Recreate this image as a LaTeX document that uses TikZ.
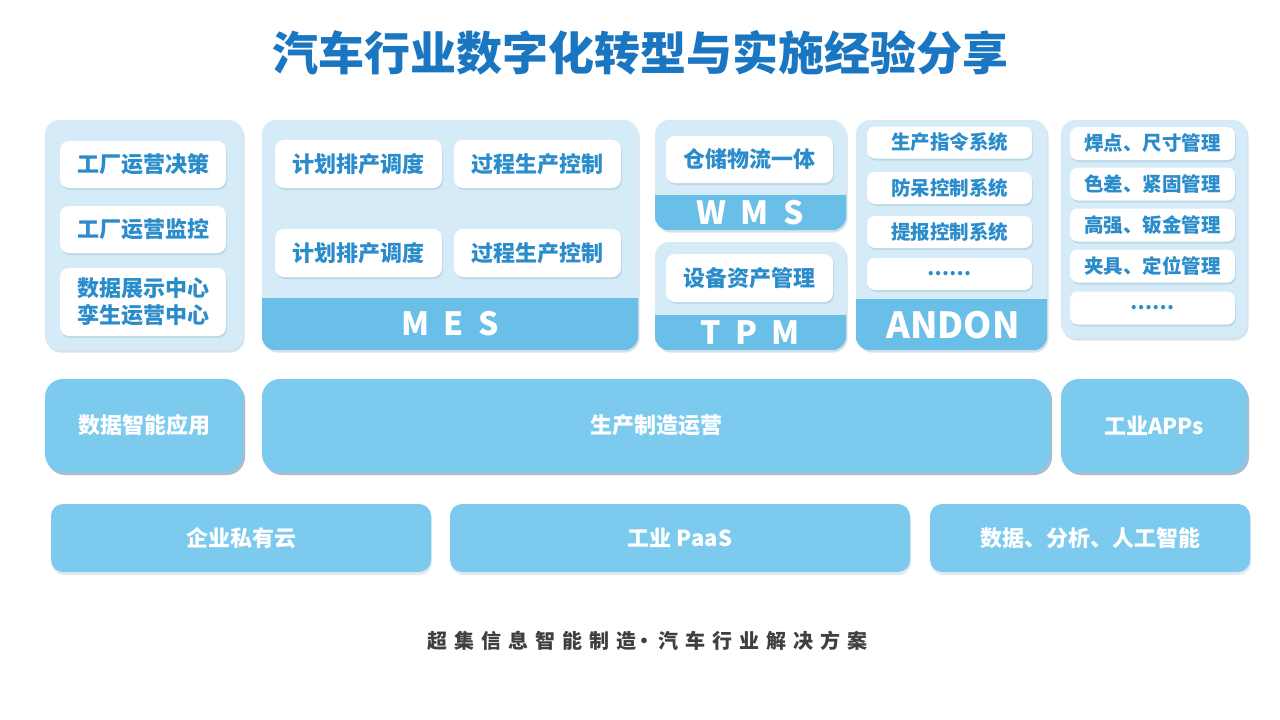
\documentclass[tikz,border=0pt]{standalone}
\usepackage{fontspec}
\setmainfont{Noto Sans CJK SC}
\usetikzlibrary{shadows}
\definecolor{titleblue}{HTML}{1A76C0}
\definecolor{txtblue}{HTML}{2A8CCB}
\definecolor{panel}{HTML}{D5ECF8}
\definecolor{band}{HTML}{69BFE7}
\definecolor{mid}{HTML}{7CCBEE}
\definecolor{footgray}{HTML}{3F3F3F}
\definecolor{shadowc}{HTML}{4F7F9E}
\tikzset{
  panelbox/.style={fill=panel, rounded corners=14pt, inner sep=0pt,
    drop shadow={shadow xshift=1.5pt, shadow yshift=-2.5pt, opacity=0.22, fill=shadowc}},
  whitebox/.style={fill=white, rounded corners=9pt, inner sep=0pt, text=txtblue,
    font=\bfseries\fontsize{22}{27}\selectfont, align=center,
    drop shadow={shadow xshift=1pt, shadow yshift=-2pt, opacity=0.18, fill=shadowc}},
  smallbox/.style={whitebox, font=\bfseries\fontsize{19.5}{24}\selectfont, rounded corners=8pt},
  bandtext/.style={text=white, font=\bfseries\fontsize{32}{36}\selectfont, inner sep=0pt},
  midbox/.style={fill=mid, rounded corners=18pt, inner sep=0pt, text=white,
    font=\bfseries\fontsize{22}{26}\selectfont,
    drop shadow={shadow xshift=2pt, shadow yshift=-3pt, opacity=0.5, fill=shadowc}},
  lowbox/.style={fill=mid, rounded corners=12pt, inner sep=0pt, text=white,
    font=\bfseries\fontsize{22}{26}\selectfont,
    drop shadow={shadow xshift=1pt, shadow yshift=-3pt, opacity=0.15, fill=shadowc}},
}
\newcommand{\ls}{\hspace{0.45em}}
\newcommand{\fs}{\hspace{7pt}}
\begin{document}
\begin{tikzpicture}[x=1pt, y=-1pt]
\useasboundingbox[fill=white] (0,0) rectangle (1280,720);

% title
\node[text=titleblue, font=\bfseries\fontsize{46}{52}\selectfont, inner sep=0pt] (title) at (640,53) {汽车行业数字化转型与实施经验分享};

% panel 1
\node[panelbox, minimum width=198pt, minimum height=230pt] (p1) at (144,235) {};
\node[whitebox, minimum width=166pt, minimum height=47pt] (a1) at (143,164.5) {工厂运营决策};
\node[whitebox, minimum width=166pt, minimum height=47pt] (a2) at (143,229.5) {工厂运营监控};
\node[whitebox, minimum width=166pt, minimum height=68pt] (a3) at (143,302) {数据展示中心\\孪生运营中心};

% MES panel
\node[panelbox, minimum width=376pt, minimum height=230pt] (mes) at (450,235) {};
\begin{scope}
\clip[rounded corners=14pt] (mes.north west) rectangle (mes.south east);
\fill[band] (262,298) rectangle (640,352);
\end{scope}
\node[whitebox, minimum width=167pt, minimum height=48pt] (m1) at (358.5,164) {计划排产调度};
\node[whitebox, minimum width=167pt, minimum height=48pt] (m2) at (537.5,164) {过程生产控制};
\node[whitebox, minimum width=167pt, minimum height=48pt] (m3) at (358.5,253) {计划排产调度};
\node[whitebox, minimum width=167pt, minimum height=48pt] (m4) at (537.5,253) {过程生产控制};
\node[bandtext] (mesl) at (450,324) {M\ls E\ls S};

% WMS panel
\node[panelbox, minimum width=191pt, minimum height=110pt] (wms) at (750.5,175) {};
\begin{scope}
\clip[rounded corners=14pt] (wms.north west) rectangle (wms.south east);
\fill[band] (655,195) rectangle (848,232);
\end{scope}
\node[whitebox, minimum width=167pt, minimum height=47pt] (w1) at (749.5,159.5) {仓储物流一体};
\node[bandtext] (wmsl) at (750,212.5) {W\ls M\ls S};

% TPM panel
\node[panelbox, minimum width=191pt, minimum height=108pt] (tpm) at (750.5,296) {};
\begin{scope}
\clip[rounded corners=14pt] (tpm.north west) rectangle (tpm.south east);
\fill[band] (655,315) rectangle (848,352);
\end{scope}
\node[whitebox, minimum width=167pt, minimum height=48pt] (t1) at (749.5,278) {设备资产管理};
\node[bandtext] (tpml) at (750,332.5) {T\ls P\ls M};

% ANDON panel
\node[panelbox, minimum width=191pt, minimum height=230pt] (andon) at (951.5,235) {};
\begin{scope}
\clip[rounded corners=14pt] (andon.north west) rectangle (andon.south east);
\fill[band] (856,299) rectangle (1049,352);
\end{scope}
\node[smallbox, minimum width=165pt, minimum height=32pt] (n1) at (949.5,142.5) {生产指令系统};
\node[smallbox, minimum width=165pt, minimum height=32pt] (n2) at (949.5,188) {防呆控制系统};
\node[smallbox, minimum width=165pt, minimum height=32pt] (n3) at (949.5,232) {提报控制系统};
\node[smallbox, minimum width=165pt, minimum height=32pt] (n4) at (949.5,274) {……};
\node[bandtext, font=\bfseries\fontsize{36}{40}\selectfont] (andonl) at (953,325) {ANDON};

% right panel
\node[panelbox, minimum width=186pt, minimum height=218pt] (pr) at (1154,229) {};
\node[smallbox, minimum width=165pt, minimum height=33pt] (r1) at (1152.5,143.5) {焊点、尺寸管理};
\node[smallbox, minimum width=165pt, minimum height=33pt] (r2) at (1152.5,184) {色差、紧固管理};
\node[smallbox, minimum width=165pt, minimum height=33pt] (r3) at (1152.5,225) {高强、钣金管理};
\node[smallbox, minimum width=165pt, minimum height=33pt] (r4) at (1152.5,266) {夹具、定位管理};
\node[smallbox, minimum width=165pt, minimum height=33pt] (r5) at (1152.5,308) {……};

% middle row
\node[midbox, minimum width=198pt, minimum height=93pt] (b1) at (144,425.5) {数据智能应用};
\node[midbox, minimum width=788pt, minimum height=93pt] (b2) at (656,425.5) {生产制造运营};
\node[midbox, minimum width=186pt, minimum height=93pt] (b3) at (1154,425.5) {工业APPs};

% bottom row
\node[lowbox, minimum width=380pt, minimum height=68pt] (c1) at (241,538) {企业私有云};
\node[lowbox, minimum width=460pt, minimum height=68pt] (c2) at (680,538) {工业 PaaS};
\node[lowbox, minimum width=320pt, minimum height=68pt] (c3) at (1090,538) {数据、分析、人工智能};

% footer
\node[text=footgray, font=\bfseries\fontsize{20}{24}\selectfont, inner sep=0pt] (foot) at (647,641)
  {超\fs 集\fs 信\fs 息\fs 智\fs 能\fs 制\fs 造\hspace{-2pt}·\hspace{4pt}汽\fs 车\fs 行\fs 业\fs 解\fs 决\fs 方\fs 案};
\end{tikzpicture}
\end{document}
